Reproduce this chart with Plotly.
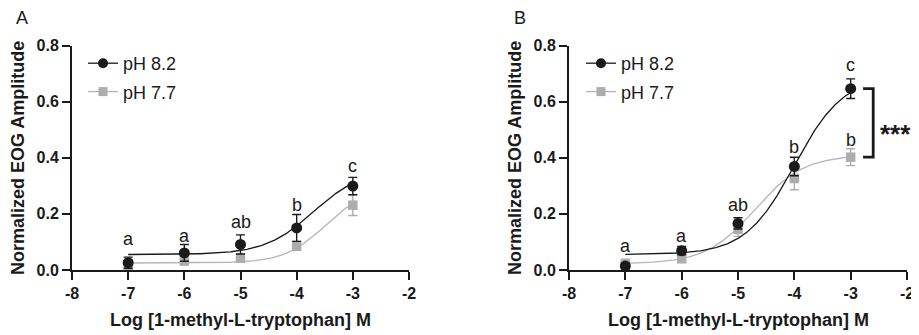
import numpy as np
import plotly.graph_objects as go

# ---------------- data ----------------
log_conc = [-7, -6, -5, -4, -3]

# Panel A
a_ph82_mean = [0.026, 0.061, 0.091, 0.150, 0.299]
a_ph82_err = [0.020, 0.030, 0.034, 0.048, 0.031]
a_ph77_mean = [0.010, 0.033, 0.042, 0.086, 0.231]
a_ph77_err = [0.010, 0.015, 0.012, 0.016, 0.037]

# Panel B
b_ph82_mean = [0.014, 0.069, 0.166, 0.369, 0.646]
b_ph82_err = [0.010, 0.015, 0.020, 0.033, 0.035]
b_ph77_mean = [0.024, 0.040, 0.145, 0.326, 0.402]
b_ph77_err = [0.010, 0.010, 0.025, 0.040, 0.030]

# 4-parameter logistic fit parameters: [bottom, top, logEC50, hill]
a_ph82_fit = [0.055, 0.36, -3.7, 1.0]
a_ph77_fit = [0.025, 0.29, -3.5, 1.2]
b_ph82_fit = [0.055, 0.69, -4.0, 1.0]
b_ph77_fit = [0.022, 0.41, -4.7, 1.0]

a_letters = ["a", "a", "ab", "b", "c"]
a_letter_y = [0.11, 0.12, 0.17, 0.23, 0.37]
b_letters = ["a", "a", "ab", "b", "c"]
b_letter_y = [0.084, 0.12, 0.23, 0.44, 0.73]
b_extra_letter = "b"
b_extra_letter_y = 0.465

series_names = ["pH 8.2", "pH 7.7"]
x_ticks = [-8, -7, -6, -5, -4, -3, -2]
y_ticks = [0.0, 0.2, 0.4, 0.6, 0.8]
x_title = "Log [1-methyl-L-tryptophan] M"
y_title = "Normalized EOG Amplitude"
panel_labels = ["A", "B"]
signif = "***"

# ---------------- style ----------------
FONT = "Arial, Liberation Sans, sans-serif"
BLACK = "#1a1a1a"
GRAY_M = "#adadad"
GRAY_L = "#b5b5b5"
OFF = 8                      # page body margin of the browser
W, H = 919 - OFF, 335 - OFF  # figure fits the window exactly


def px(x):  # reference pixel x -> paper coordinate
    return (x - OFF) / W


def py(y):  # reference pixel y -> paper coordinate
    return 1 - (y - OFF) / H


def fourpl(x, p):
    bottom, top, ec, hill = p
    return bottom + (top - bottom) / (1 + 10 ** ((ec - x) * hill))


xc = np.linspace(-7, -3, 300)

fig = go.Figure()


def add_panel(xa, ya, m82, e82, m77, e77, f82, f77, legend):
    fig.add_trace(go.Scatter(x=xc, y=fourpl(xc, f77), mode="lines",
                             line=dict(color=GRAY_L, width=1.3),
                             xaxis=xa, yaxis=ya, showlegend=False, hoverinfo="skip"))
    fig.add_trace(go.Scatter(x=log_conc, y=m77, mode="markers",
                             marker=dict(symbol="square", size=9.5, color=GRAY_M),
                             error_y=dict(type="data", array=e77, color=GRAY_M,
                                          thickness=1.4, width=4.5),
                             cliponaxis=False, xaxis=xa, yaxis=ya, showlegend=False))
    fig.add_trace(go.Scatter(x=xc, y=fourpl(xc, f82), mode="lines",
                             line=dict(color=BLACK, width=1.3),
                             xaxis=xa, yaxis=ya, showlegend=False, hoverinfo="skip"))
    fig.add_trace(go.Scatter(x=log_conc, y=m82, mode="markers",
                             marker=dict(symbol="circle", size=11, color=BLACK),
                             error_y=dict(type="data", array=e82, color=BLACK,
                                          thickness=1.4, width=4.5),
                             cliponaxis=False, xaxis=xa, yaxis=ya, showlegend=False))
    fig.add_trace(go.Scatter(x=[None], y=[None], mode="lines+markers", name=series_names[0],
                             line=dict(color=BLACK, width=1.3),
                             marker=dict(symbol="circle", size=10, color=BLACK),
                             xaxis=xa, yaxis=ya, legend=legend, legendgroup=legend + "1"))
    fig.add_trace(go.Scatter(x=[None], y=[None], mode="lines+markers", name=series_names[1],
                             line=dict(color=GRAY_L, width=1.3),
                             marker=dict(symbol="square", size=9, color=GRAY_M),
                             xaxis=xa, yaxis=ya, legend=legend, legendgroup=legend + "2"))


add_panel("x", "y", a_ph82_mean, a_ph82_err, a_ph77_mean, a_ph77_err,
          a_ph82_fit, a_ph77_fit, "legend")
add_panel("x2", "y2", b_ph82_mean, b_ph82_err, b_ph77_mean, b_ph77_err,
          b_ph82_fit, b_ph77_fit, "legend2")

LET = dict(family=FONT, size=18, color=BLACK)
TITLE = dict(family=FONT, size=18, color=BLACK, weight="bold")
C = dict(showarrow=False, xanchor="center", yanchor="middle")

annotations = []
for xv, t, yv in zip(log_conc, a_letters, a_letter_y):
    annotations.append(dict(C, x=xv, y=yv, xref="x", yref="y", text=t, font=LET))
for xv, t, yv in zip(log_conc, b_letters, b_letter_y):
    annotations.append(dict(C, x=xv, y=yv, xref="x2", yref="y2", text=t, font=LET))
annotations.append(dict(C, x=log_conc[-1], y=b_extra_letter_y, xref="x2", yref="y2",
                        text=b_extra_letter, font=LET))
annotations.append(dict(showarrow=False, xanchor="left", yanchor="middle",
                        x=px(878), y=py(134), xref="paper", yref="paper",
                        text=signif,
                        font=dict(family=FONT, size=26, color=BLACK, weight="bold")))
for lab, lx in zip(panel_labels, [22, 520]):
    annotations.append(dict(C, x=px(lx), y=py(18), xref="paper", yref="paper", text=lab,
                            font=LET))
for cx in [18, 515]:
    annotations.append(dict(C, x=px(cx), y=py(158), xref="paper", yref="paper",
                            text=y_title, textangle=-90, font=TITLE))
for cx in [241, 738]:
    annotations.append(dict(C, x=px(cx), y=py(320), xref="paper", yref="paper",
                            text=x_title, font=TITLE))

shapes = [dict(type="path", xref="x2", yref="y2",
               path=f"M -2.78 {b_ph82_mean[-1]} L -2.6 {b_ph82_mean[-1]} "
                    f"L -2.6 {b_ph77_mean[-1]} L -2.78 {b_ph77_mean[-1]}",
               line=dict(color=BLACK, width=2.8))]

ydom = [py(270), py(45.5)]

axis_common = dict(showline=True, linecolor=BLACK, linewidth=2, ticks="outside",
                   ticklen=8, tickwidth=2, tickcolor=BLACK, showgrid=False, zeroline=False,
                   tickfont=dict(family=FONT, size=16, color=BLACK, weight="bold"),
                   automargin=False, mirror=False)

xaxis_common = dict(axis_common, range=[-8, -2], tickvals=x_ticks,
                    ticktext=[str(v) for v in x_ticks])
yaxis_common = dict(axis_common, range=[0, 0.8], tickvals=y_ticks,
                    ticktext=[f"{v:.1f}" for v in y_ticks], domain=ydom)

legend_common = dict(font=dict(family=FONT, size=18, color=BLACK), bgcolor="rgba(0,0,0,0)",
                     xanchor="left", yanchor="top", tracegroupgap=2, itemwidth=30,
                     orientation="v")

fig.update_layout(
    width=W, height=H,
    margin=dict(l=0, r=0, t=0, b=0),
    paper_bgcolor="white", plot_bgcolor="white",
    font=dict(family=FONT, color=BLACK),
    xaxis=dict(xaxis_common, domain=[px(72), px(409)], anchor="y"),
    yaxis=dict(yaxis_common, anchor="x"),
    xaxis2=dict(xaxis_common, domain=[px(569), px(907)], anchor="y2"),
    yaxis2=dict(yaxis_common, anchor="x2"),
    legend=dict(legend_common, x=px(83), y=py(45)),
    legend2=dict(legend_common, x=px(581), y=py(45)),
    annotations=annotations,
    shapes=shapes,
)

fig.write_html("out.html")
